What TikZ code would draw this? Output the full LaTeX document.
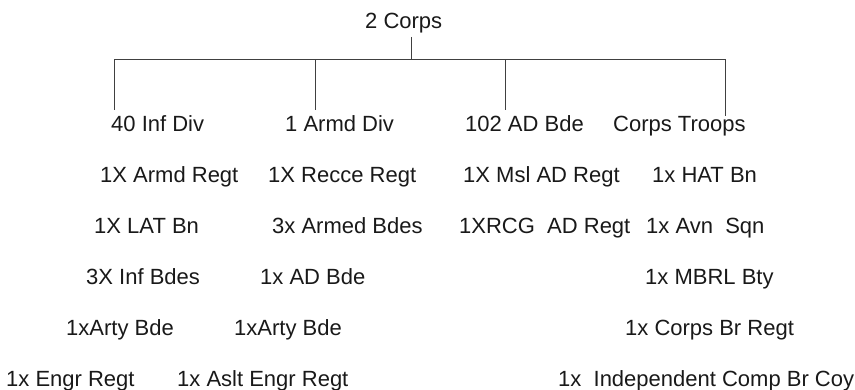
\documentclass[tikz,border=0pt]{standalone}
\usepackage{fontspec}
\setmainfont{Liberation Sans}
\usepackage{tikz}
\usetikzlibrary{calc}
\tikzstyle{link} = [line width=1pt, draw=black!75]

\begin{document}
\begin{tikzpicture}[x=1pt, y=1pt, unit/.style={anchor=base west, inner sep=0pt, text=black!90, font=\fontsize{22}{26}\selectfont}]
    \useasboundingbox (0,0) rectangle (855,390);
    % head and first level
    \node[unit] (corps) at (365,361) {2 Corps};
    \node[unit] (inf) at (111,258) {40 Inf Div};
    \node[unit] (armd) at (285,258) {1 Armd Div};
    \node[unit] (adbde) at (465,258) {102 AD Bde};
    \node[unit] (troops) at (613,258) {Corps Troops};
    % 40 Inf Div
    \node[unit] (infA) at (100,207) {1X Armd Regt};
    \node[unit] (infB) at (94,156) {1X LAT Bn};
    \node[unit] (infC) at (86,105) {3X Inf Bdes};
    \node[unit] (infD) at (66,54) {1xArty Bde};
    \node[unit] (infE) at (6,3) {1x Engr Regt};
    % 1 Armd Div
    \node[unit] (armdA) at (268,207) {1X Recce Regt};
    \node[unit] (armdB) at (272,156) {3x Armed Bdes};
    \node[unit] (armdC) at (260,105) {1x AD Bde};
    \node[unit] (armdD) at (234,54) {1xArty Bde};
    \node[unit] (armdE) at (177,3) {1x Aslt Engr Regt};
    % 102 AD Bde
    \node[unit] (adA) at (463,207) {1X Msl AD Regt};
    \node[unit] (adB) at (459,156) {1XRCG\ \ AD Regt};
    % Corps Troops
    \node[unit] (trA) at (652,207) {1x HAT Bn};
    \node[unit] (trB) at (646,156) {1x Avn\ \ Sqn};
    \node[unit] (trC) at (645,105) {1x MBRL Bty};
    \node[unit] (trD) at (625,54) {1x Corps Br Regt};
    \node[unit] (trE) at (558,3) {1x\ \ Independent Comp Br Coy};
    % tree lines
    \coordinate (b0) at (411,330);
    \coordinate (b1) at (114,330);
    \coordinate (b2) at (315,330);
    \coordinate (b3) at (505,330);
    \coordinate (b4) at (725,330);
    \draw[link, shorten <=3pt] (corps.south -| b0) -- (b0);
    \draw[link, shorten <=6pt] (b1 |- inf.north) -- (b1) -- (b4) -- (b4 |- troops.north);
    \draw[link, shorten >=6pt] (b2) -- (b2 |- armd.north);
    \draw[link, shorten >=6pt] (b3) -- (b3 |- adbde.north);
\end{tikzpicture}
\end{document}
